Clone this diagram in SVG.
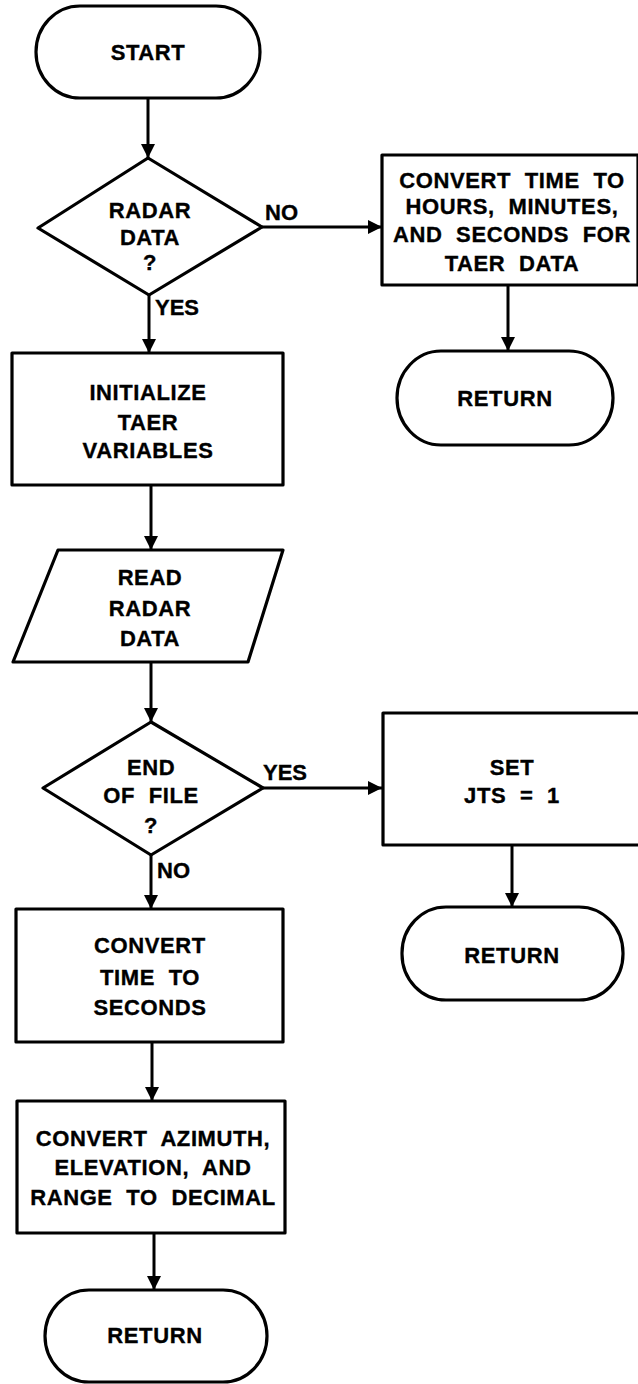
<svg xmlns="http://www.w3.org/2000/svg" width="638" height="1384" viewBox="0 0 638 1384">
  <defs>
    <marker id="arrow" viewBox="0 0 14 18" refX="14" refY="9" markerWidth="14" markerHeight="18" markerUnits="userSpaceOnUse" orient="auto">
      <path d="M0,2 L14,9 L0,16 Z" fill="#000"/>
    </marker>
    <style>
      .shape { fill: #fff; stroke: #000; stroke-width: 3.2; stroke-linejoin: round; }
      .edge { fill: none; stroke: #000; stroke-width: 3; }
      .arrow { marker-end: url(#arrow); }
      text { font-family: "Liberation Sans", Arial, sans-serif; font-weight: bold; font-size: 22px; fill: #000; stroke: #000; stroke-width: 0.35; letter-spacing: 0.6px; word-spacing: 7px; }
      .c { text-anchor: middle; }
      .lbl { font-size: 22px; letter-spacing: 0; }
    </style>
  </defs>
  <rect width="638" height="1384" fill="#fff"/>

  <!-- connectors -->
  <g id="connectors">
    <line class="edge arrow" x1="148" y1="98" x2="148" y2="158"/>
    <line class="edge arrow" x1="262" y1="227" x2="382" y2="227"/>
    <line class="edge arrow" x1="508" y1="285" x2="508" y2="351"/>
    <line class="edge arrow" x1="149" y1="295" x2="149" y2="353"/>
    <line class="edge arrow" x1="151" y1="485" x2="151" y2="550"/>
    <line class="edge arrow" x1="151" y1="662" x2="151" y2="722"/>
    <line class="edge arrow" x1="263" y1="788" x2="382" y2="788"/>
    <line class="edge arrow" x1="512" y1="845" x2="512" y2="907"/>
    <line class="edge arrow" x1="151" y1="855" x2="151" y2="909"/>
    <line class="edge arrow" x1="152" y1="1042" x2="152" y2="1101"/>
    <line class="edge arrow" x1="154" y1="1233" x2="154" y2="1290"/>
    <text class="lbl" x="265" y="220">NO</text>
    <text class="lbl" x="155" y="315">YES</text>
    <text class="lbl" x="263" y="780">YES</text>
    <text class="lbl" x="157" y="878">NO</text>
  </g>

  <g id="start">
    <rect class="shape" x="36" y="6" width="224" height="92" rx="44" ry="46"/>
    <text class="c" x="148" y="60">START</text>
  </g>

  <g id="radar-data">
    <polygon class="shape" points="148,158 262,227 149,295 38,228"/>
    <text class="c" x="150" y="218">RADAR</text>
    <text class="c" x="150" y="245">DATA</text>
    <text class="c" x="150" y="270">?</text>
  </g>

  <g id="convert-hms">
    <rect class="shape" x="382" y="155" width="256" height="130"/>
    <text class="c" x="512" y="188">CONVERT TIME TO</text>
    <text class="c" x="512" y="214">HOURS, MINUTES,</text>
    <text class="c" x="512" y="242">AND SECONDS FOR</text>
    <text class="c" x="512" y="271">TAER DATA</text>
  </g>

  <g id="return-1">
    <rect class="shape" x="397" y="351" width="216" height="94" rx="44" ry="47"/>
    <text class="c" x="505" y="406">RETURN</text>
  </g>

  <g id="initialize">
    <rect class="shape" x="12" y="353" width="271" height="132"/>
    <text class="c" x="148" y="400">INITIALIZE</text>
    <text class="c" x="148" y="430">TAER</text>
    <text class="c" x="148" y="458">VARIABLES</text>
  </g>

  <g id="read-radar">
    <polygon class="shape" points="58,550 283,550 248,662 13,662"/>
    <text class="c" x="150" y="585">READ</text>
    <text class="c" x="150" y="616">RADAR</text>
    <text class="c" x="150" y="646">DATA</text>
  </g>

  <g id="end-of-file">
    <polygon class="shape" points="151,722 263,788 151,855 43,788"/>
    <text class="c" x="151" y="775">END</text>
    <text class="c" x="151" y="803">OF FILE</text>
    <text class="c" x="151" y="833">?</text>
  </g>

  <g id="set-jts">
    <rect class="shape" x="383" y="713" width="257" height="132"/>
    <text class="c" x="512" y="775">SET</text>
    <text class="c" x="512" y="803" xml:space="preserve">JTS = 1</text>
  </g>

  <g id="return-2">
    <rect class="shape" x="402" y="907" width="221" height="93" rx="44" ry="46"/>
    <text class="c" x="512" y="963">RETURN</text>
  </g>

  <g id="convert-seconds">
    <rect class="shape" x="16" y="909" width="267" height="133"/>
    <text class="c" x="150" y="953">CONVERT</text>
    <text class="c" x="150" y="985">TIME TO</text>
    <text class="c" x="150" y="1015">SECONDS</text>
  </g>

  <g id="convert-aer">
    <rect class="shape" x="17" y="1101" width="268" height="132"/>
    <text class="c" x="153" y="1146">CONVERT AZIMUTH,</text>
    <text class="c" x="153" y="1175">ELEVATION, AND</text>
    <text class="c" x="153" y="1205">RANGE TO DECIMAL</text>
  </g>

  <g id="return-3">
    <rect class="shape" x="45" y="1290" width="222" height="92" rx="44" ry="46"/>
    <text class="c" x="155" y="1343">RETURN</text>
  </g>
</svg>
